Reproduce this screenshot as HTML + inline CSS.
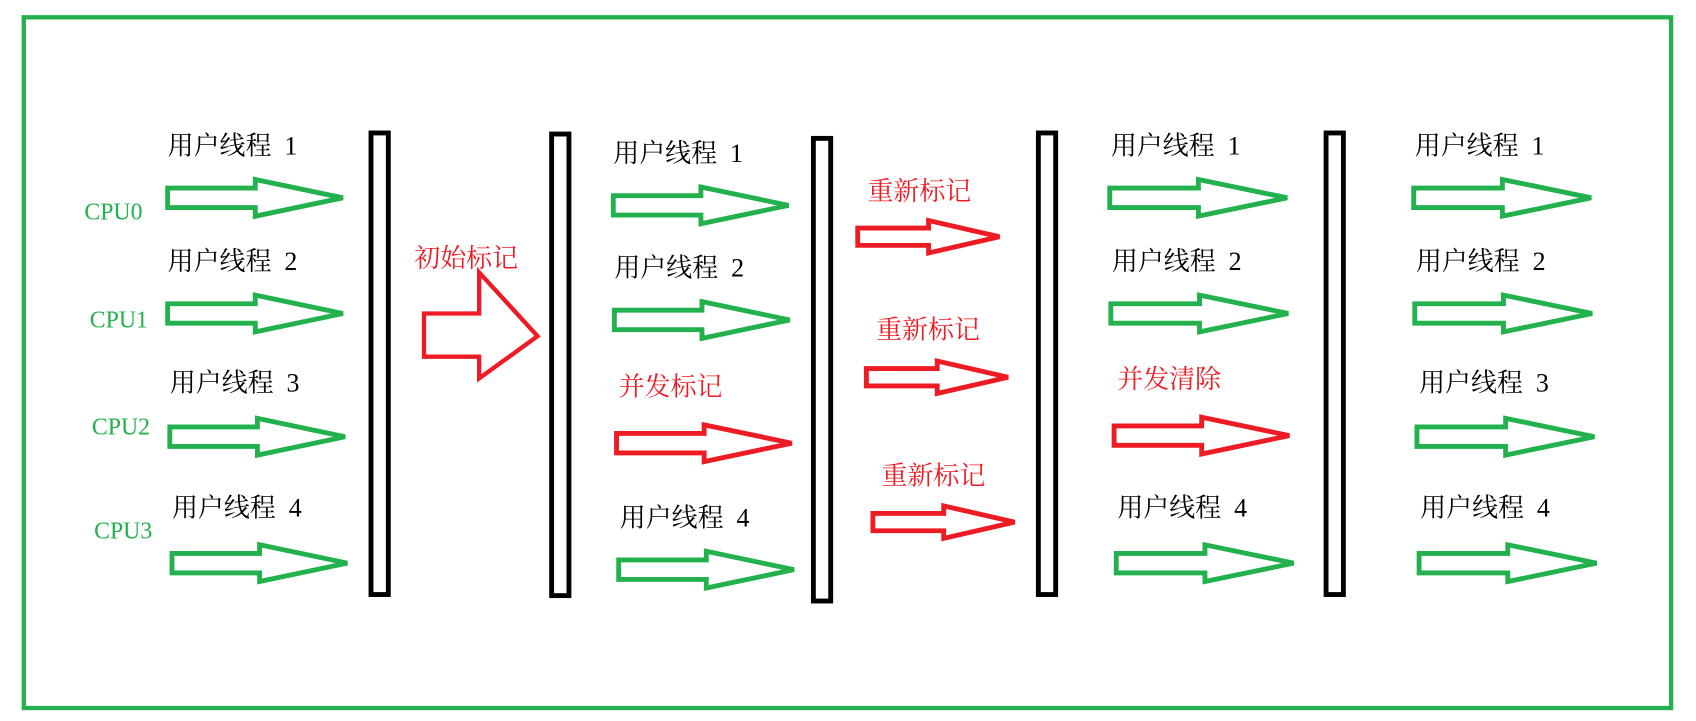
<!DOCTYPE html>
<html><head><meta charset="utf-8">
<style>
html,body{margin:0;padding:0;background:#fff;}
svg{display:block;}
text{font-family:"Liberation Serif","Noto Serif CJK SC",serif;}
</style></head>
<body>
<svg width="1696" height="721" viewBox="0 0 1568 667" preserveAspectRatio="none">
<rect x="22" y="16" width="1523" height="639" fill="#fff" stroke="#22b14c" stroke-width="4"/>
<g id="bars"></g>
<g id="arrows"></g>
<g id="labels"></g>
</svg>
<script>
const NS="http://www.w3.org/2000/svg";
const barXs=[343,510,752,960,1226];
const barTops=[123,124,128,123,123];
const barBots=[550,551,556,550,550];
const greenArrows=[[155,183,162],[155,290,162],[157,404,162],[159,521,162],[567,190,162],[568,296,162],[572,527,162],[1026,183,164],[1027,290,164],[1032,521,164],[1307,183,164],[1308,290,164],[1310,404,164],[1312,521,164]];
const redArrows=[[570,410,162,9,17],[793,219,131,8,15],[801,349,131,8,15],[807,483,131,8,15],[1030,403,162,9,17]];
const blackLabels=[[155,143,"用户线程\u00a0\u00a01"],[155,250,"用户线程\u00a0\u00a02"],[157,362,"用户线程\u00a0\u00a03"],[159,478,"用户线程\u00a0\u00a04"],[567,150,"用户线程\u00a0\u00a01"],[568,256,"用户线程\u00a0\u00a02"],[573,487,"用户线程\u00a0\u00a04"],[1027,143,"用户线程\u00a0\u00a01"],[1028,250,"用户线程\u00a0\u00a02"],[1033,478,"用户线程\u00a0\u00a04"],[1308,143,"用户线程\u00a0\u00a01"],[1309,250,"用户线程\u00a0\u00a02"],[1312,362,"用户线程\u00a0\u00a03"],[1313,478,"用户线程\u00a0\u00a04"]];
const redLabels=[[383,247,"初始标记"],[572,366,"并发标记"],[802,185,"重新标记"],[810,313,"重新标记"],[815,448,"重新标记"],[1033,359,"并发清除"]];
const cpuLabels=[[78,203,"CPU0"],[83,303,"CPU1"],[85,402,"CPU2"],[87,498,"CPU3"]];
function mk(t,a,p){const e=document.createElementNS(NS,t);for(const k in a)e.setAttribute(k,a[k]);p.appendChild(e);return e;}
const gb=document.getElementById('bars'),ga=document.getElementById('arrows'),gl=document.getElementById('labels');
barXs.forEach((x,i)=>{const r=mk('rect',{x:x,y:barTops[i],width:16,height:barBots[i]-barTops[i],fill:'#fff',stroke:'#000','stroke-width':4.5},gb);

});
function arrow(x,y,len,bh,hh,col){const hx=x+len*0.5;const tx=x+len;
const d=`M${x},${y-bh}L${hx},${y-bh}L${hx},${y-hh}L${tx},${y}L${hx},${y+hh}L${hx},${y+bh}L${x},${y+bh}Z`;
return mk('path',{d:d,fill:'#fff',stroke:col,'stroke-width':4.5,'stroke-linejoin':'miter'},ga);}
greenArrows.forEach(a=>{const p=arrow(a[0],a[1],a[2],9,17,'#22b14c');

});
redArrows.forEach(a=>{const p=arrow(a[0],a[1],a[2],a[3],a[4],'#ed1c24');

});
const big=mk('path',{d:'M392,290L443,290L443,252L497,311L443,350L443,330L392,330Z',fill:'#fff',stroke:'#ed1c24','stroke-width':4},ga);


function label(l,col,fs){const t=mk('text',{x:l[0],y:l[1],fill:col,'font-size':fs},gl);t.textContent=l[2];return t;}
blackLabels.forEach(l=>{const t=label(l,'#000',24);

});
redLabels.forEach(l=>{const t=label(l,'#ed1c24',24);

});
cpuLabels.forEach(l=>{const t=label(l,'#22b14c',22);

});
</script>
</body></html>
